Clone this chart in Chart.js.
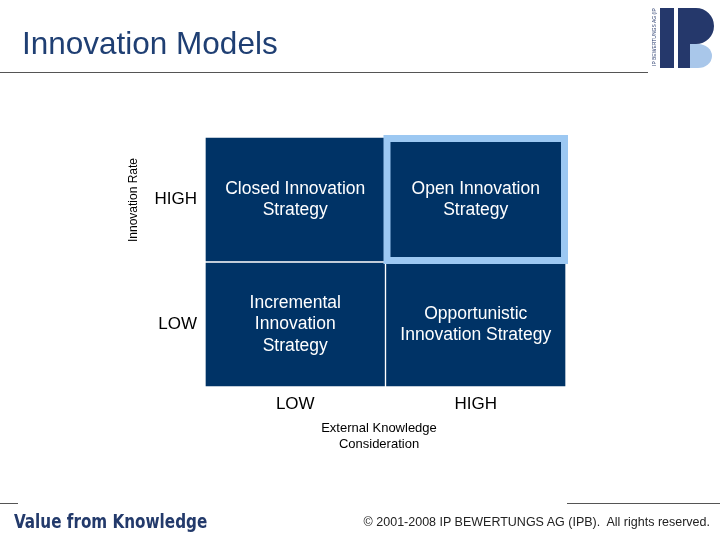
<!DOCTYPE html>
<html><head><meta charset="utf-8">
<script src="https://cdn.jsdelivr.net/npm/chart.js@4/dist/chart.umd.min.js"></script>
<style>
body{margin:0;width:720px;height:540px;position:relative;background:#fff;font-family:"Liberation Sans",Arial,sans-serif;overflow:hidden}
#c{position:absolute;left:0;top:0}
.t{position:absolute;left:22px;top:25px;font-size:31.5px;color:#1f3f73}
.hl{position:absolute;top:72px;left:0;width:648px;height:1px;background:#555}
.ft1{position:absolute;left:14px;top:510px;font-family:"DejaVu Sans Condensed","Liberation Sans Narrow",sans-serif;font-weight:bold;font-size:19px;color:#233a6b;transform:scaleX(0.89);transform-origin:left}
.ft2{position:absolute;right:10px;top:515px;font-size:12.5px;color:#222}
.fl1{position:absolute;left:0;top:503px;width:18px;height:1px;background:#555}
.fl2{position:absolute;left:567px;top:503px;width:153px;height:1px;background:#555}
.logo{position:absolute;left:650px;top:8px;width:66px;height:60px}
</style></head><body>
<canvas id="c" width="720" height="540"></canvas>
<div class="t">Innovation Models</div><div class="hl"></div>
<div class="fl1"></div><div class="fl2"></div>
<div class="ft1">Value from Knowledge</div>
<div class="ft2">© 2001-2008 IP BEWERTUNGS AG (IPB).&nbsp; All rights reserved.</div>
<svg class="logo" viewBox="0 0 66 60">
<rect x="10" y="0" width="14" height="60" fill="#25386b"/>
<path d="M28 0 H46 A18 18 0 0 1 46 36 H40 V60 H28 Z" fill="#25386b"/>
<path d="M40 36 H48 A14 12 0 0 1 48 60 H40 Z" fill="#a9c7ea"/>
<text x="6" y="58" transform="rotate(-90 6 58)" font-size="5" fill="#25386b" font-family="Liberation Sans">IP BEWERTUNGS AG (IPB)</text>
</svg>
<script>
const xCategories=["LOW","HIGH"];
const yCategories=["LOW","HIGH"];
const rowLow=[1,1];
const rowHigh=[1,1];
const cellLabels=[["Incremental\nInnovation\nStrategy","Opportunistic\nInnovation Strategy"],["Closed Innovation\nStrategy","Open Innovation\nStrategy"]];
const highlighted=[1,1];
const xTitle=["External Knowledge","Consideration"];
const yTitle="Innovation Rate";
const navy="#003366";
const plug={id:'p',afterDatasetsDraw(ch){
 const c=ch.ctx;const xs=ch.scales.x,ys=ch.scales.y;
 const el=ch.getDatasetMeta(highlighted[0]).data[highlighted[1]];
 c.save();c.strokeStyle="#9cc8f2";c.lineWidth=7;
 const l=el.x-el.width/2,r=el.x+el.width/2;
 c.strokeRect(l+1.5,el.y+1.5,r-l-3,el.base-el.y-3);
 c.fillStyle="#fff";c.textAlign="center";c.textBaseline="middle";c.font="17.5px 'Liberation Sans',Arial";
 for(let j=0;j<2;j++)for(let i=0;i<2;i++){
  const e=ch.getDatasetMeta(j).data[i];const lines=cellLabels[j][i].split("\n");
  const cy=(e.y+e.base)/2;
  lines.forEach((s,k)=>c.fillText(s,e.x,cy+(k-(lines.length-1)/2)*21.5));
 }
 c.fillStyle="#000";c.font="17px 'Liberation Sans',Arial";
 xCategories.forEach((s,i)=>c.fillText(s,xs.getPixelForValue(i),404));
 c.textAlign="right";
 yCategories.forEach((s,i)=>c.fillText(s,197,ys.getPixelForValue(i+0.5)));
 c.textAlign="center";c.font="13px 'Liberation Sans',Arial";
 xTitle.forEach((s,k)=>c.fillText(s,379,428+k*16));
 c.font="12px 'Liberation Sans',Arial";c.translate(134,200);c.rotate(-Math.PI/2);c.fillText(yTitle,0,0);
 c.restore();
}};
new Chart(document.getElementById('c'),{type:'bar',
 data:{labels:xCategories,datasets:[
  {data:rowLow,backgroundColor:navy,borderColor:"#fff",borderWidth:1,borderSkipped:false,barPercentage:1,categoryPercentage:1},
  {data:rowHigh,backgroundColor:navy,borderColor:"#fff",borderWidth:1,borderSkipped:false,barPercentage:1,categoryPercentage:1}]},
 options:{responsive:false,animation:false,layout:{padding:{left:205,right:154,top:137,bottom:153}},
  plugins:{legend:{display:false},tooltip:{enabled:false}},
  scales:{x:{display:false,stacked:true},y:{display:false,stacked:true,min:0,max:2}}},
 plugins:[plug]});
</script></body></html>
